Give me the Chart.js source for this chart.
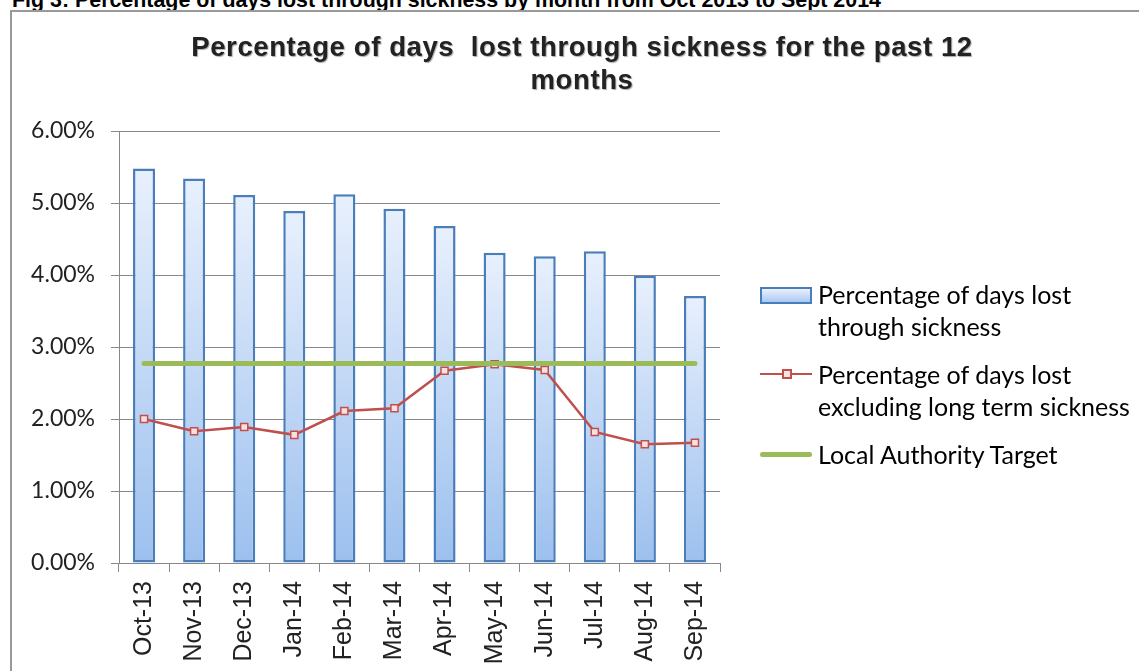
<!DOCTYPE html>
<html>
<head>
<meta charset="utf-8">
<script src="https://cdn.jsdelivr.net/npm/chart.js@4.4.0/dist/chart.umd.min.js"></script>
<style>
    html, body { margin: 0; padding: 0; background: #fff; overflow: hidden; }
    #page { position: relative; width: 1139px; height: 671px; overflow: hidden; }
    #caption {
        position: absolute; left: 12px; top: -12px; line-height: 21px;
        font: bold 21.4px "Liberation Sans", Arial, sans-serif; color: #000;
        white-space: nowrap;
    }
    #frame {
        position: absolute; left: 10px; top: 10px; width: 1140px; height: 700px;
        border-top: 2px solid #999; border-left: 2px solid #999;
    }
    #chartBox { position: absolute; left: 0; top: 0; width: 1139px; height: 671px; }
    #title {
        position: absolute; left: 0; top: 30px; width: 1164px; text-align: center;
        font: bold 27.5px "Liberation Sans", Arial, sans-serif; color: #222;
        line-height: 33px; letter-spacing: 0.6px;
        text-shadow: 1px 1px 1px #aaa;
    }
    #legend {
        position: absolute; left: 760px; top: 278px;
        font: 25px Lato, "Noto Sans", sans-serif; color: #000;
    }
    .item { position: relative; padding-left: 58px; line-height: 32px; margin-bottom: 16px; }
    .icon { position: absolute; left: 0; }
    .icon-bar {
        top: 9px; width: 48px; height: 13px; border: 2px solid #4a7ebb;
        background: linear-gradient(#eaf1fd, #a9c8f0);
    }
    .icon-line { top: 15px; width: 52px; height: 2px; background: #c0504d; }
    .icon-line i {
        position: absolute; left: 22px; top: -4px; width: 6px; height: 6px;
        border: 2px solid #c0504d; background: #fbe0e0;
    }
    .icon-target { top: 14px; width: 52px; height: 5px; border-radius: 3px; background: #9bbb59; }
</style>
</head>
<body>
<div id="page">
    <div id="caption">Fig 3: Percentage of days lost through sickness by month from Oct 2013 to Sept 2014</div>
    <div id="frame"></div>
    <div id="chartBox"><canvas id="sicknessChart"></canvas></div>
    <div id="title">Percentage of days&nbsp; lost through sickness for the past 12<br>months</div>
    <div id="legend">
        <div class="item"><span class="icon icon-bar"></span>Percentage of days lost<br>through sickness</div>
        <div class="item"><span class="icon icon-line"><i></i></span>Percentage of days lost<br>excluding long term sickness</div>
        <div class="item"><span class="icon icon-target"></span>Local Authority Target</div>
    </div>
</div>
<script>
// 月份
const months = ['Oct-13', 'Nov-13', 'Dec-13', 'Jan-14', 'Feb-14', 'Mar-14',
                'Apr-14', 'May-14', 'Jun-14', 'Jul-14', 'Aug-14', 'Sep-14'];
// 病假損失天數百分比
const daysLost = [5.48, 5.34, 5.11, 4.89, 5.12, 4.92, 4.68, 4.31, 4.26, 4.33, 3.99, 3.71];
// 不含長期病假
const daysLostExLongTerm = [2.00, 1.83, 1.89, 1.78, 2.11, 2.15, 2.67, 2.76, 2.68, 1.82, 1.65, 1.67];
// 目標值
const target = [2.77, 2.77, 2.77, 2.77, 2.77, 2.77, 2.77, 2.77, 2.77, 2.77, 2.77, 2.77];
const yTicks = [0, 1, 2, 3, 4, 5, 6];

// 每根長條各自的漸層
function barGradient(context) {
    const chart = context.chart;
    const yScale = chart.scales.y;
    if (!chart.chartArea || !yScale) return '#cfe0f8';
    const top = yScale.getPixelForValue(context.raw);
    const bottom = yScale.getPixelForValue(0);
    if (!isFinite(top) || !isFinite(bottom) || top === bottom) return '#cfe0f8';
    const g = chart.ctx.createLinearGradient(0, top, 0, bottom);
    g.addColorStop(0, '#e8f0fd');
    g.addColorStop(1, '#9cc0ee');
    return g;
}

const ctx = document.getElementById('sicknessChart');
new Chart(ctx, {
    data: {
        labels: months,
        datasets: [
            {
                type: 'line',
                label: 'Local Authority Target',
                data: target,
                borderColor: '#9bbb59',
                borderWidth: 5,
                borderCapStyle: 'round',
                pointRadius: 0,
                fill: false,
                order: 0
            },
            {
                type: 'line',
                label: 'Percentage of days lost excluding long term sickness',
                data: daysLostExLongTerm,
                borderColor: '#c0504d',
                borderWidth: 2.5,
                pointStyle: 'rect',
                pointRadius: 5,
                pointBorderWidth: 1.5,
                pointBackgroundColor: '#fbe0e0',
                pointBorderColor: '#c0504d',
                tension: 0,
                fill: false,
                order: 1
            },
            {
                type: 'bar',
                label: 'Percentage of days lost through sickness',
                data: daysLost,
                backgroundColor: barGradient,
                borderColor: '#4a7ebb',
                borderWidth: 2.5,
                borderSkipped: false,
                categoryPercentage: 1,
                barPercentage: 0.44,
                order: 2
            }
        ]
    },
    options: {
        responsive: true,
        maintainAspectRatio: false,
        animation: false,
        layout: { padding: { left: 20, right: 419, top: 131, bottom: 0 } },
        plugins: {
            legend: { display: false },
            tooltip: { enabled: false },
            title: { display: false }
        },
        scales: {
            x: {
                offset: true,
                border: { color: '#888', width: 1 },
                grid: { display: true, drawOnChartArea: false, drawTicks: true, tickLength: 9, color: '#888', offset: true },
                ticks: {
                    minRotation: 90, maxRotation: 90, autoSkip: false, padding: 9,
                    color: '#222',
                    font: { family: '"Liberation Sans", Arial, sans-serif', size: 25 }
                },
                afterFit: scale => { scale.height = 108; }
            },
            y: {
                min: 0, max: 6,
                border: { color: '#888', width: 1 },
                afterBuildTicks: scale => { scale.ticks = yTicks.map(v => ({ value: v })); },
                grid: { color: '#888', lineWidth: 1, tickLength: 8 },
                ticks: {
                    padding: 16,
                    color: '#222',
                    font: { family: 'Lato, "Noto Sans", sans-serif', size: 23 },
                    callback: value => value.toFixed(2) + '%'
                },
                afterFit: scale => { scale.width = 99; }
            }
        }
    }
});
</script>
</body>
</html>
